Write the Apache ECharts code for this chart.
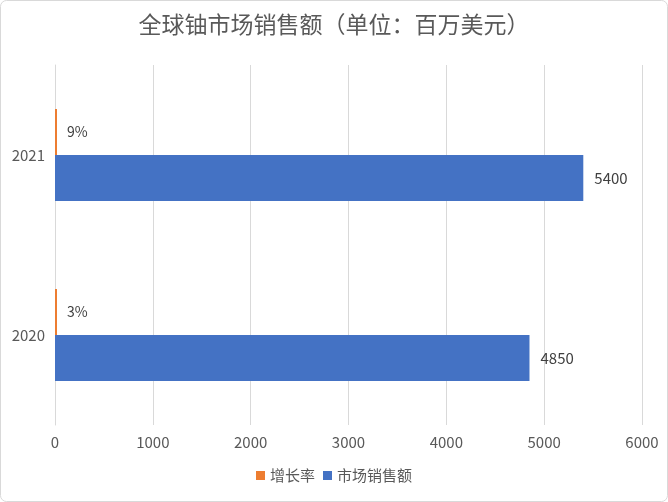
<!DOCTYPE html>
<html lang="zh">
<head>
    <meta charset="UTF-8">
    <title>全球铀市场销售额</title>
    <script src="https://cdn.jsdelivr.net/npm/echarts@6/dist/echarts.min.js"></script>
    <style>
        html, body { margin: 0; padding: 0; background: #fff; }
    </style>
</head>
<body>
<div id="main" style="width: 668px;height:502px;"></div>

<script type="text/javascript">
    // 数据
    var years = ['2020', '2021'];
    var growthRate = [3, 9];          // 增长率 (%)
    var sales = [4850, 5400];         // 市场销售额 (百万美元)
    var xTicks = [0, 1000, 2000, 3000, 4000, 5000, 6000];

    var font = '"Noto Sans CJK SC", "Microsoft YaHei", sans-serif';

    var myChart = echarts.init(document.getElementById('main'));

    myChart.setOption({
        backgroundColor: '#ffffff',
        textStyle: { fontFamily: font },
        title: {
            text: '全球铀市场销售额（单位：百万美元）',
            left: 'center',
            top: 8,
            textStyle: { fontSize: 23, fontWeight: 'normal', color: '#595959', fontFamily: font }
        },
        legend: {
            bottom: 14,
            itemWidth: 9,
            itemHeight: 9,
            itemGap: 8,
            icon: 'rect',
            textStyle: { fontSize: 15, color: '#595959', fontFamily: font },
            data: ['增长率', '市场销售额']
        },
        grid: { left: 55, right: 26, top: 65, bottom: 77, containLabel: false },
        xAxis: {
            type: 'value',
            min: xTicks[0],
            max: xTicks[xTicks.length - 1],
            interval: 1000,
            axisLine: { show: false },
            axisTick: { show: false },
            axisLabel: {
                color: '#595959', fontSize: 15, margin: 10,
                formatter: function (v) { return String(v); }
            },
            splitLine: { lineStyle: { color: '#d9d9d9' } }
        },
        yAxis: {
            type: 'category',
            data: years,
            axisLine: { show: true, lineStyle: { color: '#d9d9d9' } },
            axisTick: { show: false },
            axisLabel: { color: '#595959', fontSize: 15, margin: 10 }
        },
        graphic: [{
            type: 'rect',
            shape: { x: 0.5, y: 0.5, width: 667, height: 501, r: 6 },
            style: { fill: 'none', stroke: '#d9d9d9', lineWidth: 1 },
            silent: true
        }],
        series: [
            {
                name: '增长率',
                type: 'bar',
                data: growthRate,
                barGap: '0%',
                barCategoryGap: '49%',
                barMinHeight: 2,
                z: 5,
                itemStyle: { color: '#ed7d31' },
                label: {
                    show: true,
                    position: 'right',
                    distance: 10,
                    color: '#404040',
                    fontSize: 14,
                    formatter: '{c}%'
                }
            },
            {
                name: '市场销售额',
                type: 'bar',
                data: sales,
                barGap: '0%',
                barCategoryGap: '49%',
                itemStyle: { color: '#4472c4' },
                label: {
                    show: true,
                    position: 'right',
                    distance: 11,
                    color: '#404040',
                    fontSize: 15
                }
            }
        ]
    });
</script>

</body>
</html>
